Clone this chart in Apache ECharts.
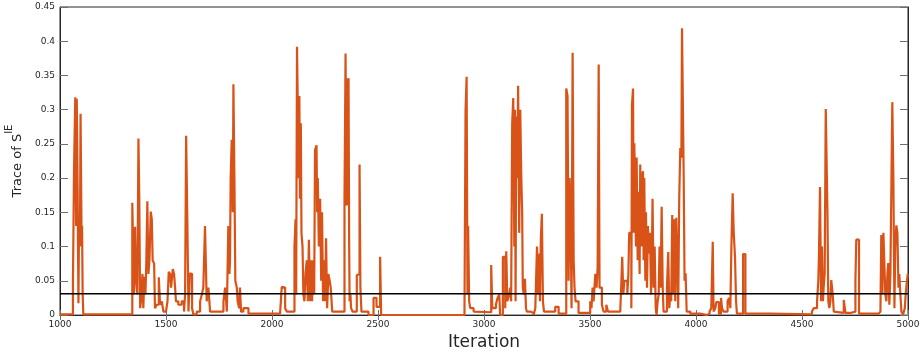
<!DOCTYPE html>
<html>
<head>
<meta charset="utf-8">
<script src="https://cdn.jsdelivr.net/npm/echarts@6/dist/echarts.min.js"></script>
<style>
html,body{margin:0;padding:0;background:#fff;}
#chart{width:921px;height:354px;}
</style>
</head>
<body>
<div id="chart"></div>
<script>
// ---- data ----
var xTicks = [1000, 1500, 2000, 2500, 3000, 3500, 4000, 4500, 5000];
var yTicks = [0, 0.05, 0.1, 0.15, 0.2, 0.25, 0.3, 0.35, 0.4, 0.45];
var thresholdValue = 0.031;

var iterations = [
1000,1061,1066,1072,1076,1079,1083,1087,1090,1094,1097,1102,1104,1107,1110,
1341,1349,1354,1359,1365,1370,1374,1378,1382,1389,1393,1398,1403,1407,1412,1417,1422,1428,1433,1437,1444,1448,1456,1466,1472,1480,1488,1500,
1507,1513,1519,1524,1532,1538,1543,1547,1558,1574,1585,1590,1595,1601,1606,1613,1618,1623,1629,1645,
1661,1669,1676,1684,1692,1700,1708,1771,1779,1787,1794,1799,1802,1805,1810,1815,1818,1823,1827,1834,1838,1845,1849,1854,1865,1889,
2038,2046,2054,2062,2070,2106,2111,2114,2118,2123,2126,2129,2132,2136,2139,2144,2148,2153,2158,2164,2169,2174,2180,2185,2189,2194,2199,
2203,2210,2213,2216,2221,2227,2232,2236,2241,2246,2251,2255,2260,2266,2272,2277,2284,
2342,2347,2351,2355,2358,2361,2364,2366,2370,2373,2380,2400,2408,2413,2417,2422,2455,2479,2493,2510,2515,
2908,2913,2918,2922,2925,2930,2935,2951,2959,
3034,3039,3056,3064,3072,3076,3089,3100,3105,3110,3119,3124,3128,3133,3138,3143,3146,3149,3152,3157,3161,3166,3171,3176,3180,3183,3188,3193,3198,3202,3218,3234,
3242,3250,3254,3259,3264,3268,3273,3278,3283,3336,3352,
3388,3394,3399,3404,3408,3413,3418,3423,3427,3432,3446,
3501,3507,3512,3517,3525,3531,3536,3541,3545,3556,3564,3577,3585,
3643,3647,3652,3657,3662,3676,3681,3685,3695,3698,3703,3706,3709,3717,3720,3725,3729,3734,3737,3742,3745,3750,3753,3756,3761,3764,3769,3773,3778,3783,3788,3792,3795,3800,3805,3810,3814,3819,3824,3828,3833,3838,3843,3847,
3863,3869,3874,3879,3883,3888,3893,3898,3902,3907,3916,3921,3926,3931,3934,3939,3942,3946,3951,3956,3973,4020,
4052,4064,4072,4079,4083,4091,4096,4108,4118,4123,4130,4149,4156,4162,4167,4173,4178,4184,4189,4193,4222,4233,4350,
4547,4555,4571,4577,4580,4585,4590,4594,4599,4602,4607,4612,4620,4624,4629,4634,4638,4645,4650,4657,4697,4705,4728,4752,4756,4769,
4862,4870,4874,4879,4884,4893,4898,4903,4907,4912,4917,4922,4926,4931,4936,4940,4945,4950,4955,4959,4964,4969,4977,4985,4989,4994,4999,5000
];

var traceValues = [
0.001,0.044,0.209,0.318,0.13,0.316,0.187,0.017,0.146,0.1,0.294,0.1,0.13,0.03,0.001,
0.164,0.03,0.129,0.05,0.03,0.258,0.17,0.01,0.02,0.06,0.01,0.056,0.03,0.076,0.166,0.06,0.08,0.151,0.14,0.08,0.075,0.01,0.015,0.055,0.015,0.02,0.005,0.003,
0.02,0.063,0.06,0.04,0.067,0.06,0.04,0.02,0.015,0.02,0.005,0.03,0.262,0.13,0.005,0.061,0.06,0.01,0.001,0.005,
0.02,0.03,0.04,0.13,0.02,0.04,0.005,0.02,0.04,0.005,0.13,0.06,0.08,0.2,0.256,0.15,0.337,0.19,0.05,0.04,0.02,0.01,0.04,0.005,0.01,0.002,
0.003,0.041,0.04,0.01,0.005,0.1,0.14,0.03,0.392,0.39,0.2,0.32,0.17,0.28,0.12,0.1,0.03,0.02,0.06,0.08,0.02,0.11,0.02,0.08,0.02,0.08,0.03,
0.241,0.248,0.15,0.2,0.1,0.17,0.05,0.15,0.02,0.08,0.02,0.112,0.01,0.06,0.05,0.04,0.005,
0.171,0.382,0.16,0.346,0.16,0.346,0.1,0.02,0.03,0.01,0.005,0.058,0.06,0.22,0.04,0.005,0.0,0.025,0.012,0.085,0.0,
0.01,0.3,0.348,0.03,0.13,0.02,0.01,0.005,0.004,
0.073,0.01,0.015,0.025,0.03,0.0,0.085,0.01,0.093,0.02,0.03,0.04,0.02,0.28,0.317,0.1,0.3,0.02,0.29,0.2,0.335,0.12,0.3,0.2,0.15,0.04,0.03,0.053,0.01,0.005,0.003,0.0,
0.01,0.1,0.03,0.09,0.02,0.11,0.148,0.02,0.005,0.012,0.002,
0.331,0.32,0.05,0.2,0.15,0.01,0.383,0.08,0.04,0.02,0.003,
0.02,0.01,0.04,0.02,0.06,0.04,0.07,0.366,0.04,0.015,0.005,0.015,0.005,
0.008,0.04,0.085,0.03,0.05,0.03,0.06,0.12,0.01,0.307,0.331,0.12,0.251,0.1,0.23,0.08,0.18,0.06,0.22,0.1,0.2,0.21,0.08,0.2,0.05,0.15,0.04,0.13,0.09,0.12,0.03,0.09,0.17,0.04,0.1,0.01,0.0,0.02,0.03,0.1,0.04,0.158,0.04,0.005,
0.04,0.092,0.01,0.03,0.02,0.146,0.03,0.14,0.02,0.142,0.01,0.173,0.244,0.23,0.419,0.421,0.2,0.05,0.061,0.005,0.002,0.0,
0.002,0.005,0.01,0.107,0.005,0.01,0.019,0.002,0.025,0.01,0.005,0.02,0.025,0.01,0.1,0.178,0.12,0.085,0.02,0.002,0.089,0.002,0.001,
0.005,0.01,0.02,0.05,0.088,0.187,0.02,0.1,0.02,0.04,0.06,0.301,0.15,0.02,0.01,0.02,0.051,0.03,0.005,0.003,0.022,0.003,0.005,0.05,0.11,0.002,
0.003,0.005,0.117,0.03,0.12,0.03,0.02,0.06,0.076,0.015,0.06,0.2,0.311,0.2,0.01,0.1,0.131,0.12,0.04,0.06,0.03,0.005,0.001,0.01,0.03,0.047,0.06,0.06
];

// ---- build series data ----
var traceData = iterations.map(function (x, i) { return [x, traceValues[i]]; });
var xMin = xTicks[0], xMax = xTicks[xTicks.length - 1];
var yMin = yTicks[0], yMax = yTicks[yTicks.length - 1];
var thresholdData = [[xMin, thresholdValue], [xMax, thresholdValue]];

var textColor = '#262626';
var boxColor = '#262626';
var tickColor = '#6e6e6e';
var fontFam = 'DejaVu Sans';

var chart = echarts.init(document.getElementById('chart'), null, {renderer: 'canvas'});
chart.setOption({
  animation: false,
  backgroundColor: '#ffffff',
  grid: {left: 60, right: 13, top: 7, bottom: 39, show: true, borderColor: boxColor, borderWidth: 1,
         backgroundColor: 'transparent', containLabel: false, outerBoundsMode: 'none'},
  xAxis: [{
    type: 'value', min: xMin, max: xMax, interval: 500,
    name: 'Iteration', nameLocation: 'middle', nameGap: 17,
    nameTextStyle: {color: textColor, fontSize: 17, fontFamily: fontFam},
    axisLine: {show: true, lineStyle: {color: '#a6a6a6', width: 2}},
    axisTick: {show: true, inside: true, length: 5, lineStyle: {color: tickColor}},
    axisLabel: {color: textColor, fontSize: 9, fontFamily: fontFam, margin: 5,
      formatter: function (v) { return String(v); }},
    splitLine: {show: false}
  }, {
    type: 'value', position: 'top', min: xMin, max: xMax, interval: 500,
    axisLine: {show: true, lineStyle: {color: boxColor, width: 1}},
    axisTick: {show: true, inside: true, length: 5, lineStyle: {color: tickColor}},
    axisLabel: {show: false},
    splitLine: {show: false}
  }],
  yAxis: [{
    type: 'value', min: yMin, max: yMax, interval: 0.05,
    name: '{a|Trace of S}{b|IE}', nameLocation: 'middle', nameGap: 25, nameRotate: 90,
    nameTextStyle: {
      color: textColor, fontFamily: fontFam,
      rich: {
        a: {fontSize: 13, fontFamily: fontFam, color: textColor, lineHeight: 20, verticalAlign: 'bottom'},
        b: {fontSize: 10, fontFamily: fontFam, color: textColor, lineHeight: 20, verticalAlign: 'top'}
      }
    },
    axisLine: {show: true, lineStyle: {color: boxColor, width: 1}},
    axisTick: {show: true, inside: true, length: 8, lineStyle: {color: tickColor}},
    axisLabel: {color: textColor, fontSize: 9, fontFamily: fontFam, margin: 5},
    splitLine: {show: false}
  }, {
    type: 'value', position: 'right', min: yMin, max: yMax, interval: 0.05,
    axisLine: {show: true, lineStyle: {color: boxColor, width: 1}},
    axisTick: {show: true, inside: true, length: 8, lineStyle: {color: tickColor}},
    axisLabel: {show: false},
    splitLine: {show: false}
  }],
  series: [{
    name: 'trace', type: 'line', xAxisIndex: 0, yAxisIndex: 0,
    data: traceData, step: 'end', showSymbol: false, symbol: 'none',
    lineStyle: {color: '#D95319', width: 2.2},
    z: 3
  }, {
    name: 'threshold', type: 'line', xAxisIndex: 0, yAxisIndex: 0,
    data: thresholdData, showSymbol: false, symbol: 'none',
    lineStyle: {color: '#000000', width: 1.5},
    z: 4
  }]
});
</script>
</body>
</html>
